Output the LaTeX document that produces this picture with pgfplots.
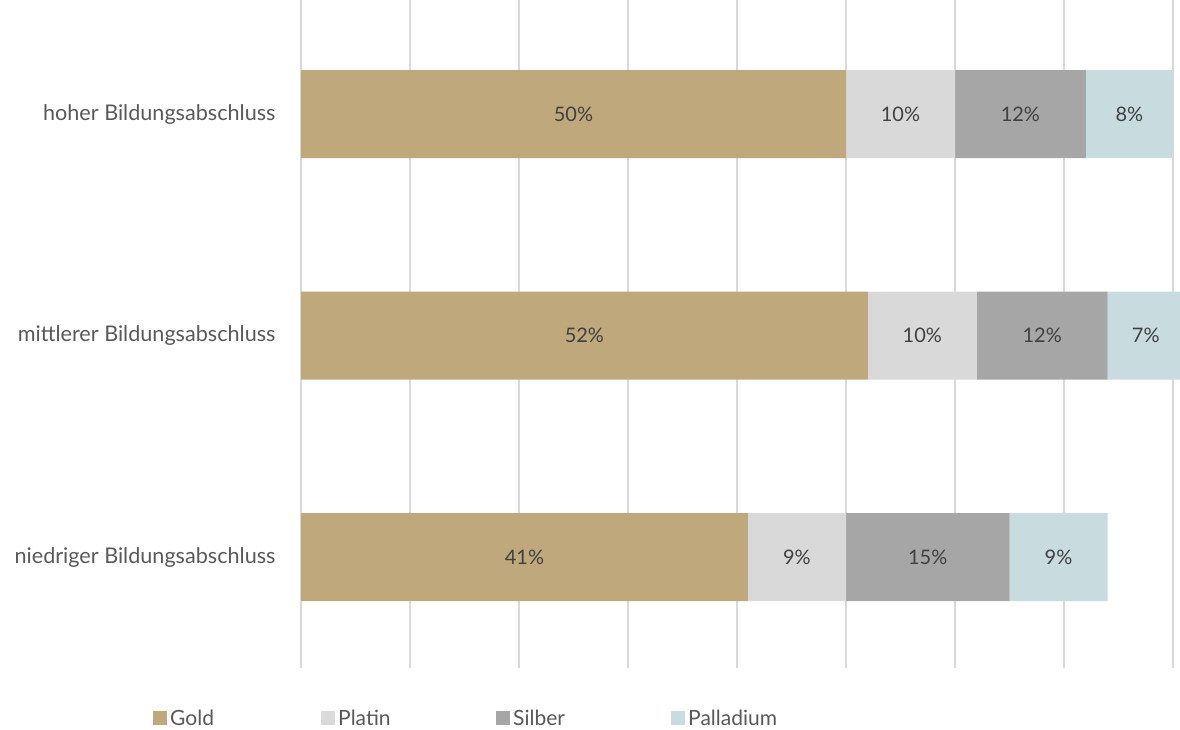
\documentclass[border=0pt]{standalone}
\usepackage{pgfplots}
\pgfplotsset{compat=1.18}
\usepackage{pgfplotstable}
\usepackage{fontspec}
\setmainfont{Lato}
\definecolor{cgold}{HTML}{BFA87C}
\definecolor{cplatin}{HTML}{D9D9D9}
\definecolor{csilber}{HTML}{A6A6A6}
\definecolor{cpall}{HTML}{C8DCE0}
\definecolor{cgrid}{HTML}{D9D9D9}
\definecolor{ctext}{HTML}{595959}
\definecolor{cval}{HTML}{404040}

\pgfplotstableread{
cat gold platin silber palladium
0 41 9 15 9
1 52 10 12 7
2 50 10 12 8
}\data

\begin{document}
\begin{tikzpicture}
\path[use as bounding box] (0,0) rectangle (1180pt,730pt);
\begin{axis}[
  at={(301pt,62pt)}, anchor=south west,
  scale only axis, width=872pt, height=668pt,
  xbar stacked, bar width=88pt,
  xmin=0, xmax=80, ymin=-0.5, ymax=2.515,
  clip=false,
  axis line style={draw=none},
  xtick={0,10,...,80}, xticklabels={},
  xmajorgrids, grid style={draw=cgrid, line width=1.5pt},
  ytick={0,1,2},
  yticklabels={niedriger Bildungsabschluss, mittlerer Bildungsabschluss, hoher Bildungsabschluss},
  major tick length=0pt,
  y tick label style={font=\fontsize{21.6}{25}\selectfont, text=ctext, xshift=-22pt},
  visualization depends on=rawx\as\rawx,
  nodes near coords={\pgfmathprintnumber[assume math mode=true,fixed,precision=0]{\rawx}\%},
  every node near coord/.append style={anchor=center, font=\fontsize{20}{24}\selectfont, text=cval},
  legend columns=4,
  legend style={at={(axis description cs:-0.1697,-0.0749)}, anchor=west, draw=none, inner sep=0pt,
    font=\fontsize{21}{25}\selectfont, text=ctext,
    nodes={inner xsep=3pt}},
  legend image code/.code={\fill[#1] (0pt,-7pt) rectangle (14pt,7pt);},
]
\addplot[fill=cgold, draw=none] table[x=gold, y=cat] {\data};
\addlegendentry{\makebox[148pt][l]{Gold}}
\addplot[fill=cplatin, draw=none] table[x=platin, y=cat] {\data};
\addlegendentry{\makebox[155pt][l]{Platin}}
\addplot[fill=csilber, draw=none] table[x=silber, y=cat] {\data};
\addlegendentry{\makebox[155pt][l]{Silber}}
\addplot[fill=cpall, draw=none] table[x=palladium, y=cat] {\data};
\addlegendentry{\makebox[100pt][l]{Palladium}}
\end{axis}
\end{tikzpicture}
\end{document}
